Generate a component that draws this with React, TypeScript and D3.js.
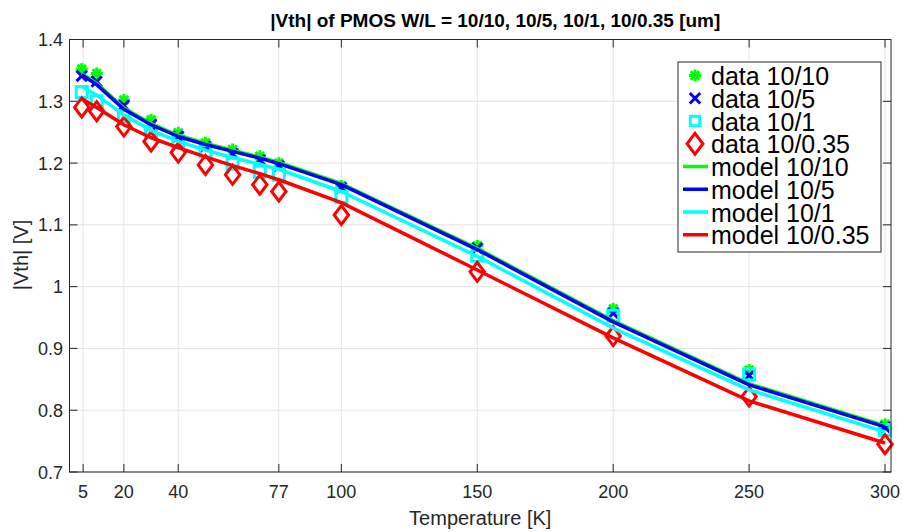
import React from "react";
import * as d3 from "d3";

const temps = [4.5, 10, 20, 30, 40, 50, 60, 70, 77, 100, 150, 200, 250, 300];

const data1010 = [1.352, 1.345, 1.302, 1.27, 1.249, 1.233, 1.222, 1.211, 1.2, 1.163, 1.066, 0.964, 0.865, 0.777];
const data105 = [1.341, 1.332, 1.293, 1.262, 1.243, 1.227, 1.215, 1.205, 1.195, 1.16, 1.062, 0.957, 0.856, 0.772];
const data101 = [1.315, 1.3, 1.276, 1.251, 1.235, 1.219, 1.199, 1.186, 1.181, 1.145, 1.05, 0.953, 0.858, 0.768];
const data1035 = [1.29, 1.284, 1.259, 1.235, 1.217, 1.197, 1.181, 1.165, 1.154, 1.116, 1.024, 0.92, 0.822, 0.745];

const model1010 = [1.345, 1.329, 1.289, 1.264, 1.245, 1.232, 1.221, 1.21, 1.201, 1.167, 1.062, 0.945, 0.843, 0.775];
const model105 = [1.343, 1.327, 1.287, 1.262, 1.243, 1.23, 1.219, 1.208, 1.199, 1.165, 1.06, 0.943, 0.841, 0.773];
const model101 = [1.324, 1.31, 1.278, 1.253, 1.235, 1.221, 1.209, 1.198, 1.19, 1.154, 1.049, 0.933, 0.833, 0.765];
const model1035 = [1.304, 1.29, 1.262, 1.241, 1.225, 1.21, 1.196, 1.183, 1.173, 1.136, 1.027, 0.917, 0.815, 0.747];

const xTicks = [5, 20, 40, 77, 100, 150, 200, 250, 300];
const yTicks = [0.7, 0.8, 0.9, 1, 1.1, 1.2, 1.3, 1.4];

const titleText = "|Vth| of PMOS W/L = 10/10, 10/5, 10/1, 10/0.35 [um]";
const xLabel = "Temperature [K]";
const yLabel = "|Vth| [V]";

const legendLabels = [
  "data 10/10", "data 10/5", "data 10/1", "data 10/0.35",
  "model 10/10", "model 10/5", "model 10/1", "model 10/0.35",
];

const GREEN = "#00ff00";
const BLUE = "#0000ff";
const CYAN = "#00ffff";
const RED = "#ff0000";

const W = 903, H = 532;
const L = 69.5, R = 891, T = 39.5, B = 472;
const FONT = "'Liberation Sans', Arial, Helvetica, sans-serif";

type MarkerKind = "star" | "x" | "square" | "diamond";

function Marker({ kind, cx, cy, color, scale = 1 }: { kind: MarkerKind; cx: number; cy: number; color: string; scale?: number }) {
  const sw = 3;
  if (kind === "star") {
    const r = 6 * scale;
    const lines = [0, 45, 90, 135].map((a) => {
      const rad = (a * Math.PI) / 180;
      const dx = r * Math.cos(rad), dy = r * Math.sin(rad);
      return <line key={a} x1={cx - dx} y1={cy - dy} x2={cx + dx} y2={cy + dy} stroke={color} strokeWidth={sw} />;
    });
    return <g>{lines}</g>;
  }
  if (kind === "x") {
    const r = 5.2 * scale;
    return (
      <g>
        <line x1={cx - r} y1={cy - r} x2={cx + r} y2={cy + r} stroke={color} strokeWidth={sw} />
        <line x1={cx - r} y1={cy + r} x2={cx + r} y2={cy - r} stroke={color} strokeWidth={sw} />
      </g>
    );
  }
  if (kind === "square") {
    const r = 5.5 * scale;
    return <rect x={cx - r} y={cy - r} width={2 * r} height={2 * r} fill="none" stroke={color} strokeWidth={sw} />;
  }
  const rx = 7.2 * scale, ry = 9.5 * scale;
  return (
    <path d={`M${cx},${cy - ry}L${cx + rx},${cy}L${cx},${cy + ry}L${cx - rx},${cy}Z`} fill="none" stroke={color} strokeWidth={sw} />
  );
}

export default function App() {
  const x = d3.scaleLinear().domain([0, 302.2]).range([L, R]);
  const y = d3.scaleLinear().domain([0.7, 1.4]).range([B, T]);

  const dataSeries: { vals: number[]; kind: MarkerKind; color: string }[] = [
    { vals: data1010, kind: "star", color: GREEN },
    { vals: data105, kind: "x", color: BLUE },
    { vals: data101, kind: "square", color: CYAN },
    { vals: data1035, kind: "diamond", color: RED },
  ];
  const modelSeries = [
    { vals: model1010, color: GREEN },
    { vals: model105, color: BLUE },
    { vals: model101, color: CYAN },
    { vals: model1035, color: RED },
  ];

  const line = d3
    .line<number>()
    .x((_, i) => x(temps[i]))
    .y((d) => y(d));

  const tickLen = 8;
  const axisColor = "#262626";

  const legX = 678, legY = 62, legW = 203, legH = 190;
  const rowH = 22.75;
  const row0 = 75.5;

  return (
    <svg width={W} height={H} style={{ position: "absolute", left: 0, top: 0, background: "#fff" }}>
      <rect x={0} y={0} width={W} height={H} fill="#fff" />
      {/* grid */}
      <g>
        {xTicks.map((t) => (
          <line key={"gx" + t} x1={x(t)} x2={x(t)} y1={T} y2={B} stroke="#e3e3e3" strokeWidth={1} />
        ))}
        {yTicks.map((t) => (
          <line key={"gy" + t} x1={L} x2={R} y1={y(t)} y2={y(t)} stroke="#e3e3e3" strokeWidth={1} />
        ))}
      </g>
      {/* data markers */}
      {dataSeries.map((s, si) => (
        <g key={"d" + si}>
          {s.vals.map((v, i) => (
            <Marker key={i} kind={s.kind} cx={x(temps[i])} cy={y(v)} color={s.color} />
          ))}
        </g>
      ))}
      {/* model lines */}
      {modelSeries.map((s, si) => (
        <path key={"m" + si} d={line(s.vals) || ""} fill="none" stroke={s.color} strokeWidth={3.5} strokeLinejoin="round" />
      ))}
      {/* axes box */}
      <rect x={L} y={T} width={R - L} height={B - T} fill="none" stroke={axisColor} strokeWidth={1} />
      {xTicks.map((t) => (
        <g key={"xt" + t}>
          <line x1={x(t)} x2={x(t)} y1={B} y2={B - tickLen} stroke={axisColor} />
          <line x1={x(t)} x2={x(t)} y1={T} y2={T + tickLen} stroke={axisColor} />
          <text x={x(t)} y={B + 26} textAnchor="middle" fontFamily={FONT} fontSize={18} fill={axisColor}>
            {t}
          </text>
        </g>
      ))}
      {yTicks.map((t) => (
        <g key={"yt" + t}>
          <line x1={L} x2={L + tickLen} y1={y(t)} y2={y(t)} stroke={axisColor} />
          <line x1={R} x2={R - tickLen} y1={y(t)} y2={y(t)} stroke={axisColor} />
          <text x={L - 6.5} y={y(t) + 6.5} textAnchor="end" fontFamily={FONT} fontSize={18} fill={axisColor}>
            {d3.format("")(t)}
          </text>
        </g>
      ))}
      <text x={(L + R) / 2 + 15} y={27} textAnchor="middle" fontFamily={FONT} fontSize={19} fontWeight="bold" fill="#000">
        {titleText}
      </text>
      <text x={(L + R) / 2} y={525} textAnchor="middle" fontFamily={FONT} fontSize={20} fill={axisColor}>
        {xLabel}
      </text>
      <text transform={`translate(${28},${255}) rotate(-90)`} textAnchor="middle" fontFamily={FONT} fontSize={20} fill={axisColor}>
        {yLabel}
      </text>
      {/* legend */}
      <rect x={legX} y={legY} width={legW} height={legH} fill="#fff" stroke="#262626" strokeWidth={1} />
      {legendLabels.map((lab, i) => {
        const cy = row0 + i * rowH;
        let sym: React.ReactNode;
        if (i < 4) {
          const s = dataSeries[i];
          sym = <Marker kind={s.kind} cx={695} cy={cy} color={s.color} scale={s.kind === "square" ? 0.85 : s.kind === "diamond" ? 1.1 : 1} />;
        } else {
          sym = <line x1={683} x2={708} y1={cy} y2={cy} stroke={modelSeries[i - 4].color} strokeWidth={3.5} />;
        }
        return (
          <g key={"lg" + i}>
            {sym}
            <text x={711} y={cy + 9.5} fontFamily={FONT} fontSize={25} fill="#000">
              {lab}
            </text>
          </g>
        );
      })}
    </svg>
  );
}
